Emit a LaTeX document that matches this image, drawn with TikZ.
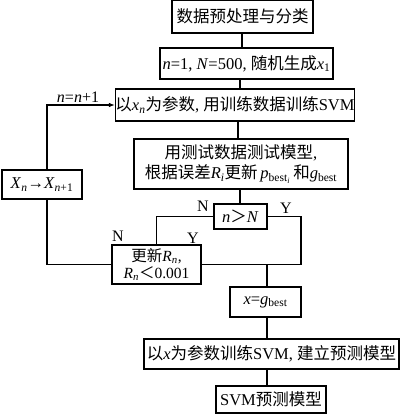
\documentclass[tikz,border=0pt]{standalone}
\usepackage{fontspec}
\setmainfont{Liberation Serif}
\newfontfamily\cjk{Noto Sans CJK SC}
\usetikzlibrary{arrows.meta}
\newcommand{\zh}[1]{{\cjk #1}}
\newcommand{\vi}[1]{\textit{#1}}
\newcommand{\sbs}[1]{\textsubscript{#1}}
\begin{document}
\begin{tikzpicture}[x=1pt,y=-1pt,
  box/.style={draw, line width=1.1pt, inner sep=0pt, align=center, font=\fontsize{16.5}{20}\selectfont},
  conn/.style={line width=1.1pt},
  lab/.style={font=\fontsize{16}{18}\selectfont, inner sep=0pt}]
\useasboundingbox (0,0) rectangle (400,414);
\node[box, minimum width=141pt, minimum height=33pt] (b1) at (242.5,16.5) {\zh{数据预处理与分类}};
\node[box, minimum width=173pt, minimum height=31pt] (b2) at (246.5,63.5) {\vi{n}=1, \vi{N}=500, \zh{随机生成}\vi{x}\sbs{1}};
\node[box, minimum width=236pt, minimum height=32pt] (b3) at (235,105) {\zh{以}\vi{x}\sbs{\vi{n}}\zh{为参数}, \zh{用训练数据训练}SVM};
\node[box, minimum width=214pt, minimum height=50pt] (b4) at (241,164) {\zh{用测试数据测试模型}, \\ \zh{根据误差}\vi{R}\sbs{\vi{i}}\zh{更新}\,\vi{p}\sbs{best\sbs{\vi{i}}}\,\zh{和}\vi{g}\sbs{best}};
\node[box, minimum width=80pt, minimum height=29pt] (xn) at (42,184.5) {\vi{X}\sbs{\vi{n}}→\vi{X}\sbs{\vi{n}+1}};
\node[box, minimum width=53pt, minimum height=25pt] (nN) at (240.5,216.5) {\vi{n}\zh{＞}\vi{N}};
\node[box, minimum width=89pt, minimum height=39pt, font=\fontsize{15.5}{17}\selectfont] (rn) at (156.5,264.5) {\zh{更新}\vi{R}\sbs{\vi{n}}, \\ \vi{R}\sbs{\vi{n}}\zh{＜}0.001};
\node[box, minimum width=71pt, minimum height=30pt] (xg) at (265.5,302) {\vi{x}=\vi{g}\sbs{best}};
\node[box, minimum width=255pt, minimum height=30pt] (b7) at (271.5,354) {\zh{以}\vi{x}\zh{为参数训练}SVM, \zh{建立预测模型}};
\node[box, minimum width=110pt, minimum height=27pt] (b8) at (271,399.5) {SVM\zh{预测模型}};
\coordinate (j) at (301,264.5);
\coordinate (k) at (267,264.5);
\coordinate (lx) at (47,0);
% connectors
\draw[conn] (242,0 |- b1.south) -- (242,0 |- b2.north);
\draw[conn] (240,0 |- b2.south) -- (240,0 |- b3.north);
\draw[conn] (238,0 |- b3.south) -- (238,0 |- b4.north);
\draw[conn] (240,0 |- b4.south) -- (240,0 |- nN.north);
\draw[conn] (nN.west) -| (rn.north);
\draw[conn] (nN.east) -| (j);
\draw[conn] (rn.east) -- (j);
\draw[conn] (k) -- (k |- xg.north);
\draw[conn] (267,0 |- xg.south) -- (267,0 |- b7.north);
\draw[conn] (267,0 |- b7.south) -- (267,0 |- b8.north);
\draw[conn] (rn.west) -| (lx |- xn.south);
\draw[conn, -{Latex[length=6pt,width=4.5pt]}] (lx |- xn.north) |- (b3.west);
% labels
\node[lab] (l1) at (78,97) {\vi{n}=\vi{n}+1};
\node[lab] (l2) at (203,206) {N};
\node[lab] (l3) at (286,208) {Y};
\node[lab] (l4) at (118,236) {N};
\node[lab] (l5) at (193,238) {Y};
\end{tikzpicture}
\end{document}
